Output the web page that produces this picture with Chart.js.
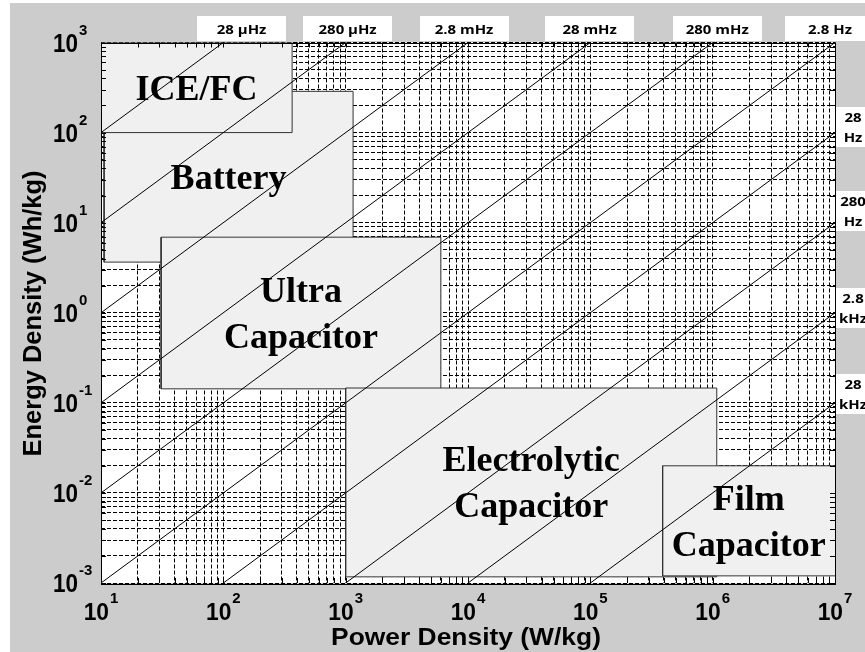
<!DOCTYPE html>
<html>
<head>
<meta charset="utf-8">
<script src="https://cdn.jsdelivr.net/npm/chart.js@4.4.1/dist/chart.umd.min.js"></script>
<style>
html,body{margin:0;padding:0;background:#fff;overflow:hidden;}
#wrap{width:865px;height:652px;}
</style>
</head>
<body>
<div id="wrap"><canvas id="c" width="865" height="652"></canvas></div>
<script>
// ---------------- data ----------------
const boxLabelLines = [['Battery'], ['ICE/FC'], ['Ultra', 'Capacitor'], ['Electrolytic', 'Capacitor'], ['Film', 'Capacitor']];
const boxPowerMin  = [10.6, 10, 31, 1000, 3.9e5];
const boxPowerMax  = [1150, 365, 6000, 1.08e6, 1.03e7];
const boxEnergyMin = [3.65, 100, 0.143, 1.17e-3, 1.2e-3];
const boxEnergyMax = [287, 1000, 6.9, 0.146, 0.02];

// constant-time (frequency) reference lines: start and end points
const lineStartP = [10, 10, 10, 10, 10, 10, 100, 1e3, 1e4, 1e5];
const lineStartE = [100, 10, 1, 0.1, 0.01, 0.001, 0.001, 0.001, 0.001, 0.001];
const lineEndP   = [100, 1e3, 1e4, 1e5, 1e6, 1e7, 1e7, 1e7, 1e7, 1e7];
const lineEndE   = [1000, 1000, 1000, 1000, 1000, 1000, 100, 10, 1, 0.1];

const topFreqLabels = ['28 µHz', '280 µHz', '2.8 mHz', '28 mHz', '280 mHz', '2.8 Hz'];
const rightFreqLabels = [['28', 'Hz'], ['280', 'Hz'], ['2.8', 'kHz'], ['28', 'kHz']];

const xTickPowers = ['1', '2', '3', '4', '5', '6', '7'];
const yTickPowers = ['-3', '-2', '-1', '0', '1', '2', '3'];

const xTitle = 'Power Density (W/kg)';
const yTitle = 'Energy Density (Wh/kg)';

// ---------------- layout (not data) ----------------
const topLabelAnchorP = [141, 1037, 9290, 9.87e4, 1.09e6, 9.1e6];
const rightLabelAnchorE = [119, 13.9, 1.15, 0.129];

function gridValues(loExp, hiExp) {
  const v = [];
  for (let e = loExp; e < hiExp; e++) {
    for (let m = 1; m <= 9; m++) v.push(Number((m * Math.pow(10, e)).toPrecision(6)));
  }
  v.push(Math.pow(10, hiExp));
  return v;
}
const xGrid = gridValues(1, 7);
const yGrid = gridValues(-3, 3);

// ---------------- datasets ----------------
const datasets = [];
for (let i = 0; i < lineStartP.length; i++) {
  datasets.push({
    data: [{x: lineStartP[i], y: lineStartE[i]}, {x: lineEndP[i], y: lineEndE[i]}],
    showLine: true, borderColor: '#000', borderWidth: 1, pointRadius: 0, fill: false
  });
}
// boxes: drawn bottom-to-top = battery, ICE, ultra, electrolytic, film -> push reversed
const boxOrder = [4, 3, 2, 1, 0];
boxOrder.forEach(i => {
  datasets.push({
    data: [
      {x: boxPowerMin[i], y: boxEnergyMin[i]},
      {x: boxPowerMax[i], y: boxEnergyMin[i]},
      {x: boxPowerMax[i], y: boxEnergyMax[i]},
      {x: boxPowerMin[i], y: boxEnergyMax[i]},
      {x: boxPowerMin[i], y: boxEnergyMin[i]}
    ],
    showLine: true, borderColor: '#333', borderWidth: 1, pointRadius: 0,
    backgroundColor: '#f0f0f0', fill: 'shape', tension: 0
  });
});

// ---------------- helpers ----------------
function txt(ctx, s, x, y, font, sx, align) {
  ctx.save();
  ctx.font = font;
  ctx.translate(x, y);
  ctx.scale(sx, 1);
  ctx.textAlign = align || 'left';
  ctx.textBaseline = 'alphabetic';
  ctx.fillStyle = '#000';
  ctx.fillText(s, 0, 0);
  ctx.restore();
}
function tw(ctx, s, font, sx) {
  ctx.save(); ctx.font = font; const w = ctx.measureText(s).width * sx; ctx.restore(); return w;
}

const bgPlugin = {
  id: 'bg',
  beforeDraw(chart) {
    const {ctx, chartArea: a} = chart;
    ctx.save();
    ctx.fillStyle = '#fff';
    ctx.fillRect(0, 0, chart.width, chart.height);
    ctx.fillStyle = '#cccccc';
    ctx.fillRect(10, 3, chart.width - 10, chart.height - 3);
    ctx.fillStyle = '#fff';
    ctx.fillRect(a.left, a.top, a.right - a.left, a.bottom - a.top);
    ctx.restore();
  }
};

const overlayPlugin = {
  id: 'overlay',
  afterDatasetsDraw(chart) {
    const {ctx} = chart;
    const xs = chart.scales.x, ys = chart.scales.y;
    const f = 'bold 36px "Liberation Serif"';
    for (let i = 0; i < boxLabelLines.length; i++) {
      const x0 = xs.getPixelForValue(Math.max(boxPowerMin[i], 10));
      const x1 = xs.getPixelForValue(Math.min(boxPowerMax[i], 1e7));
      const y0 = ys.getPixelForValue(boxEnergyMax[i]);
      const y1 = ys.getPixelForValue(boxEnergyMin[i]);
      const cx = (x0 + x1) / 2, cy = (y0 + y1) / 2;
      const lines = boxLabelLines[i];
      const n = lines.length;
      lines.forEach((s, k) => {
        txt(ctx, s, cx, cy + 12 + (k - (n - 1) / 2) * 46, f, 1, 'center');
      });
    }
  },
  afterDraw(chart) {
    const {ctx, chartArea: a} = chart;
    const xs = chart.scales.x, ys = chart.scales.y;
    ctx.save();
    // tick marks (inside)
    ctx.strokeStyle = '#000';
    ctx.lineWidth = 1;
    ctx.beginPath();
    xGrid.forEach(v => {
      const x = Math.round(xs.getPixelForValue(v)) + 0.5;
      ctx.moveTo(x, a.bottom); ctx.lineTo(x, a.bottom - 5);
      ctx.moveTo(x, a.top); ctx.lineTo(x, a.top + 5);
    });
    yGrid.forEach(v => {
      const y = Math.round(ys.getPixelForValue(v)) + 0.5;
      ctx.moveTo(a.left, y); ctx.lineTo(a.left + 5, y);
      ctx.moveTo(a.right, y); ctx.lineTo(a.right - 5, y);
    });
    ctx.stroke();
    // border
    ctx.strokeRect(Math.round(a.left) + 0.5, Math.round(a.top) + 0.5,
                   Math.round(a.right - a.left), Math.round(a.bottom - a.top));
    ctx.restore();

    // y tick labels
    const f10y = 'bold 25px "Liberation Sans"', fe = 'bold 15px "Liberation Sans"';
    yTickPowers.forEach(p => {
      const y = ys.getPixelForValue(Math.pow(10, Number(p)));
      const w10 = tw(ctx, '10', f10y, 0.9);
      txt(ctx, '10', 53, y + 9, f10y, 0.9, 'left');
      txt(ctx, p, 53 + w10 + 1, y - 8, fe, 1, 'left');
    });
    // x tick labels
    const f10x = 'bold 24px "Liberation Sans"';
    xTickPowers.forEach(p => {
      const x = xs.getPixelForValue(Math.pow(10, Number(p)));
      const w10 = tw(ctx, '10', f10x, 0.95);
      const we = tw(ctx, p, fe, 1);
      const W = w10 + 1 + we;
      const x0 = x - W / 2;
      txt(ctx, '10', x0, 620, f10x, 0.95, 'left');
      txt(ctx, p, x0 + w10 + 1, 603, fe, 1, 'left');
    });
    // axis titles
    txt(ctx, xTitle, 466, 645, 'bold 24px "Liberation Sans"', 1.1, 'center');
    ctx.save();
    ctx.translate(41, 313.5);
    ctx.rotate(-Math.PI / 2);
    txt(ctx, yTitle, 0, 0, 'bold 26px "Liberation Sans"', 0.98, 'center');
    ctx.restore();

    // top frequency labels
    const ff = 'bold 13px "Open Sans"';
    topFreqLabels.forEach((s, i) => {
      const cx = xs.getPixelForValue(topLabelAnchorP[i]);
      ctx.save();
      ctx.fillStyle = '#fff';
      ctx.fillRect(Math.round(cx - 44.5), 16, 89, 25);
      ctx.restore();
      txt(ctx, s, cx, 33.5, ff, 1.15, 'center');
    });
    // right frequency labels
    rightFreqLabels.forEach((pair, i) => {
      const cy = ys.getPixelForValue(rightLabelAnchorE[i]);
      ctx.save();
      ctx.fillStyle = '#fff';
      ctx.fillRect(836, Math.round(cy - 19), 30, 40);
      ctx.restore();
      txt(ctx, pair[0], 853, cy - 4, ff, 1.15, 'center');
      txt(ctx, pair[1], 853, cy + 16, ff, 1.15, 'center');
    });
  }
};

function make() {
  new Chart(document.getElementById('c'), {
    type: 'scatter',
    data: {datasets},
    options: {
      responsive: false,
      animation: false,
      devicePixelRatio: 1,
      layout: {padding: {left: 101, right: 30, top: 42.5, bottom: 69}},
      plugins: {legend: {display: false}, tooltip: {enabled: false}},
      elements: {line: {tension: 0}},
      scales: {
        x: {
          type: 'logarithmic', min: 10, max: 1e7,
          ticks: {display: false},
          grid: {color: '#000', lineWidth: 1, drawTicks: false},
          border: {display: false, dash: [4, 2]},
          afterBuildTicks: s => { s.ticks = xGrid.map(v => ({value: v})); },
          afterFit: s => { s.height = 0; }
        },
        y: {
          type: 'logarithmic', min: 1e-3, max: 1e3,
          ticks: {display: false},
          grid: {color: '#000', lineWidth: 1, drawTicks: false},
          border: {display: false, dash: [4, 2]},
          afterBuildTicks: s => { s.ticks = yGrid.map(v => ({value: v})); },
          afterFit: s => { s.width = 0; }
        }
      }
    },
    plugins: [bgPlugin, overlayPlugin]
  });
}
const fontsToLoad = ['bold 36px "Liberation Serif"', 'bold 24px "Liberation Sans"', 'bold 13px "Open Sans"'];
if (document.fonts && document.fonts.load) {
  Promise.all(fontsToLoad.map(f => document.fonts.load(f))).then(make, make);
} else { make(); }
</script>
</body>
</html>
